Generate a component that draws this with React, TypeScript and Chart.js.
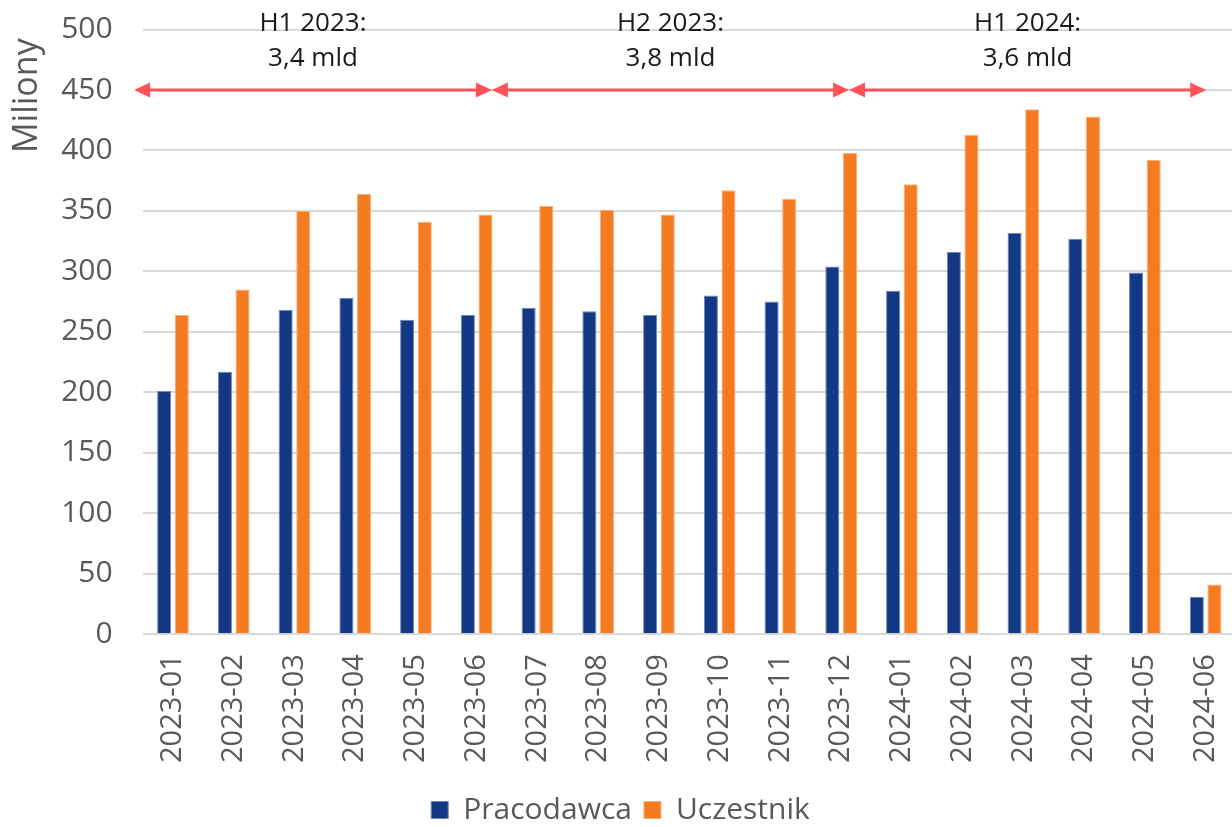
import React, { useEffect, useRef } from "react";
import { Chart, registerables } from "chart.js";

Chart.register(...registerables);

const categories = [
  "2023-01", "2023-02", "2023-03", "2023-04", "2023-05", "2023-06",
  "2023-07", "2023-08", "2023-09", "2023-10", "2023-11", "2023-12",
  "2024-01", "2024-02", "2024-03", "2024-04", "2024-05", "2024-06",
];
const pracodawca = [201, 217, 268, 278, 260, 264, 270, 267, 264, 280, 275, 304, 284, 316, 332, 327, 299, 31];
const uczestnik = [264, 285, 350, 364, 341, 347, 354, 351, 347, 367, 360, 398, 372, 413, 434, 428, 392, 41];
const yMin = 0;
const yMax = 500;
const yStep = 50;

const periodNames = ["H1 2023:", "H2 2023:", "H1 2024:"];
const periodTotals = ["3,4 mld", "3,8 mld", "3,6 mld"];
const periodStart = [-0.64, 5.25, 11.13];
const periodEnd = [5.25, 11.13, 17.01];
const arrowLevel = 450;
const nameLevel = 505;
const totalLevel = 476;

const FONT = "'Open Sans', 'DejaVu Sans', sans-serif";
const GREY = "#595959";

const periodPlugin = {
  id: "periods",
  afterDraw(chart: any) {
    const { ctx, scales } = chart;
    const x = scales.x;
    const y = scales.y;
    const x0 = x.getPixelForValue(0);
    const step = x.getPixelForValue(1) - x0;
    const px = (v: number) => x0 + v * step;
    const yA = y.getPixelForValue(arrowLevel);
    const head = 16;
    const hh = 7.5;
    ctx.save();
    periodStart.forEach((s, i) => {
      const x1 = px(s);
      const x2 = px(periodEnd[i]);
      ctx.strokeStyle = "#FF5257";
      ctx.fillStyle = "#FF5257";
      ctx.lineWidth = 3;
      ctx.beginPath();
      ctx.moveTo(x1 + head - 1, yA);
      ctx.lineTo(x2 - head + 1, yA);
      ctx.stroke();
      ctx.beginPath();
      ctx.moveTo(x1, yA);
      ctx.lineTo(x1 + head, yA - hh);
      ctx.lineTo(x1 + head, yA + hh);
      ctx.closePath();
      ctx.fill();
      ctx.beginPath();
      ctx.moveTo(x2, yA);
      ctx.lineTo(x2 - head, yA - hh);
      ctx.lineTo(x2 - head, yA + hh);
      ctx.closePath();
      ctx.fill();

      const cx = (x1 + x2) / 2;
      ctx.fillStyle = "#1a1a1a";
      ctx.font = `26px ${FONT}`;
      ctx.textAlign = "center";
      ctx.textBaseline = "middle";
      ctx.fillText(periodNames[i], cx, y.getPixelForValue(nameLevel));
      ctx.fillText(periodTotals[i], cx, y.getPixelForValue(totalLevel));
    });
    ctx.restore();
  },
};

export default function App() {
  const ref = useRef<HTMLCanvasElement | null>(null);

  useEffect(() => {
    document.body.style.margin = "0";
    const canvas = ref.current;
    if (!canvas) return;
    Chart.defaults.font.family = FONT;
    const chart = new Chart(canvas, {
      type: "bar",
      data: {
        labels: categories,
        datasets: [
          {
            label: "Pracodawca",
            data: pracodawca,
            backgroundColor: "#143984",
            borderColor: "#6f86b5",
            borderWidth: 1,
            categoryPercentage: 0.58,
            barPercentage: 0.8,
          },
          {
            label: "Uczestnik",
            data: uczestnik,
            backgroundColor: "#F57B20",
            borderColor: "#f9b07a",
            borderWidth: 1,
            categoryPercentage: 0.58,
            barPercentage: 0.8,
          },
        ],
      },
      options: {
        responsive: false,
        animation: false,
        devicePixelRatio: 1,
        layout: { padding: { left: 5, right: 0, top: 29.5, bottom: -8 } },
        scales: {
          x: {
            grid: { display: false, drawTicks: false },
            border: { display: false },
            ticks: {
              color: GREY,
              font: { family: FONT, size: 29 },
              minRotation: 90,
              maxRotation: 90,
              autoSkip: false,
              padding: 20,
            },
            afterFit(scale: any) {
              scale.paddingLeft = 0;
              scale.paddingRight = 0;
            },
          },
          y: {
            min: yMin,
            max: yMax,
            ticks: {
              stepSize: yStep,
              color: GREY,
              font: { family: FONT, size: 30 },
              padding: 30,
            },
            grid: { color: "#d9d9d9", lineWidth: 2, drawTicks: false },
            border: { display: false },
            title: {
              display: true,
              text: "Miliony ",
              align: "end",
              color: GREY,
              font: { family: FONT, size: 34 },
              padding: { top: 2, bottom: 15 },
            },
            afterFit(scale: any) {
              scale.width = 137.6;
              scale.paddingTop = 0;
              scale.paddingBottom = 0;
            },
          },
        },
        plugins: {
          legend: {
            position: "bottom",
            labels: {
              boxWidth: 17,
              boxHeight: 17,
              color: GREY,
              font: { family: FONT, size: 30 },
              padding: 12,
            },
          },
          tooltip: { enabled: false },
        },
      },
      plugins: [periodPlugin],
    });
    return () => chart.destroy();
  }, []);

  return (
    <div style={{ width: 1232, height: 827, overflow: "hidden", position: "relative", background: "#fff" }}>
      <canvas ref={ref} width={1236} height={827} style={{ display: "block" }} />
    </div>
  );
}
